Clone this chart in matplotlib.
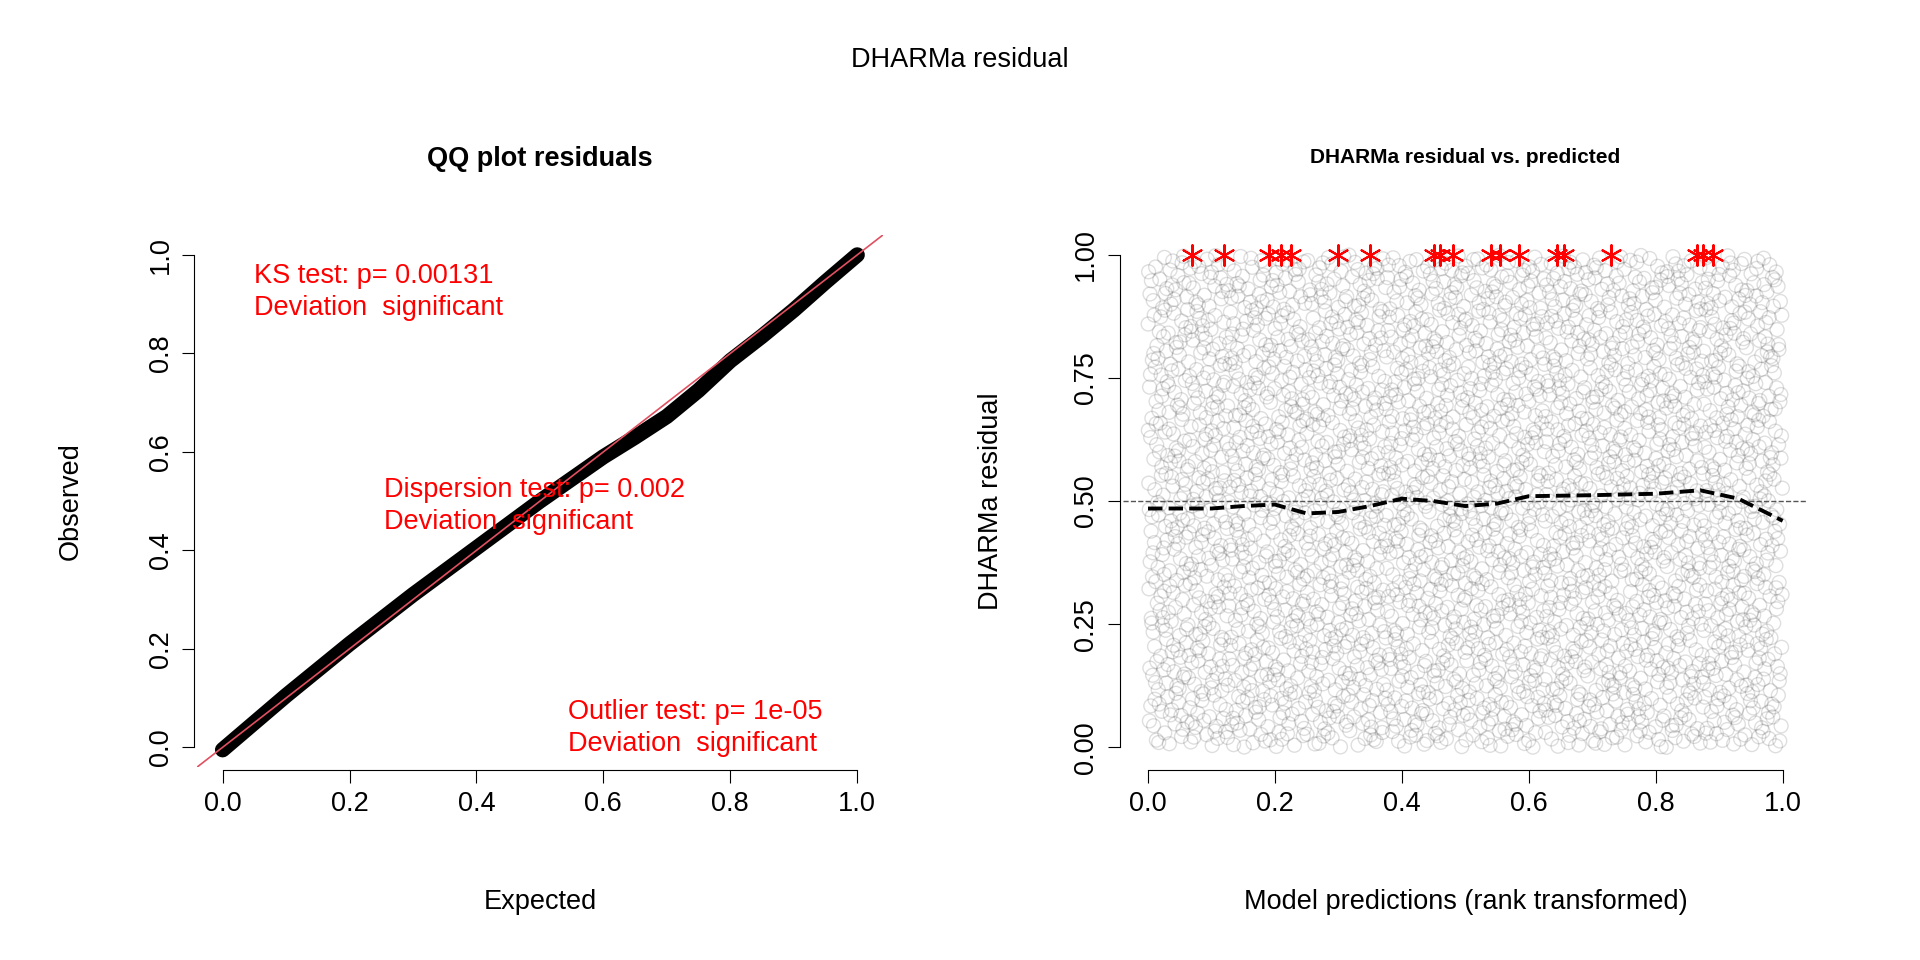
import numpy as np
import matplotlib
matplotlib.use("Agg")
import matplotlib.pyplot as plt

plt.rcParams["font.family"] = ["Liberation Sans", "DejaVu Sans"]

# QQ curve (expected, observed)
qq_expected = [0.0, 0.05, 0.1, 0.2, 0.3, 0.4, 0.5, 0.6, 0.65, 0.7, 0.75, 0.8, 0.85, 0.9, 0.95, 1.0]
qq_observed = [-0.005, 0.05, 0.105, 0.21, 0.31, 0.405, 0.5, 0.59, 0.63, 0.672, 0.725, 0.785, 0.835, 0.888, 0.945, 1.0]

# quantile-regression line (dashed)
qr_x = [0.0, 0.1, 0.15, 0.2, 0.25, 0.3, 0.35, 0.4, 0.45, 0.5, 0.55, 0.6, 0.7, 0.8, 0.87, 0.93, 1.0]
qr_y = [0.485, 0.485, 0.49, 0.493, 0.475, 0.478, 0.49, 0.505, 0.5, 0.49, 0.495, 0.51, 0.512, 0.515, 0.522, 0.505, 0.46]

# outliers marked as red stars at y = 1
outlier_x = [0.07, 0.12, 0.19, 0.21, 0.225, 0.30, 0.35, 0.45, 0.46, 0.48,
             0.54, 0.555, 0.585, 0.645, 0.655, 0.73, 0.865, 0.875, 0.89]

# residual cloud is uniform noise; individual points cannot be read,
# so a deterministic Halton layout stands in for it
def halton(n, base):
    out = np.zeros(n)
    for i in range(n):
        f, r, k = 1.0, 0.0, i + 1
        while k > 0:
            f /= base
            r += f * (k % base)
            k //= base
        out[i] = r
    return out

n_pts = 3000
cloud_x = halton(n_pts, 2)
cloud_y = halton(n_pts, 3)

ticks = [0.0, 0.2, 0.4, 0.6, 0.8, 1.0]
FS = 19.5
fig = plt.figure(figsize=(19.2, 9.6), dpi=100)
fig.text(0.5, 0.938, "DHARMa residual", ha="center", va="center", fontsize=FS)

def r_style(ax):
    for s in ("top", "right"):
        ax.spines[s].set_visible(False)
    ax.spines["left"].set_position(("outward", 2))
    ax.spines["bottom"].set_position(("outward", 2))
    ax.tick_params(labelsize=FS, length=9, pad=6)
    for lab in ax.get_yticklabels():
        lab.set_rotation(90)
        lab.set_va("center")

# left panel
ax1 = fig.add_axes([0.1027, 0.201, 0.357, 0.554])
ax1.plot(qq_expected, qq_observed, color="black", lw=11, solid_capstyle="round")
ax1.plot([-0.1, 1.1], [-0.1, 1.1], color="#e05060", lw=1.2)
ax1.set_xlim(-0.04, 1.04)
ax1.set_ylim(-0.04, 1.04)
ax1.set_xticks(ticks)
ax1.set_yticks(ticks)
ax1.spines["left"].set_bounds(0, 1)
ax1.spines["bottom"].set_bounds(0, 1)
ax1.set_xlabel("Expected", fontsize=FS, labelpad=52)
ax1.set_ylabel("Observed", fontsize=FS, labelpad=46)
ax1.set_title("QQ plot residuals", fontsize=FS, fontweight="bold", pad=50)
ax1.text(0.05, 0.925, "KS test: p= 0.00131\nDeviation  significant", color="red", fontsize=FS, va="center", linespacing=1.3)
ax1.text(0.255, 0.49, "Dispersion test: p= 0.002\nDeviation  significant", color="red", fontsize=FS, va="center", linespacing=1.3)
ax1.text(0.545, 0.04, "Outlier test: p= 1e-05\nDeviation  significant", color="red", fontsize=FS, va="center", linespacing=1.3)
r_style(ax1)

# right panel
ax2 = fig.add_axes([0.5847, 0.201, 0.357, 0.554])
ax2.scatter(cloud_x, cloud_y, s=100, facecolors="none", edgecolors=(0, 0, 0, 0.13), linewidths=1)
ax2.axhline(0.5, color="#555555", ls="--", lw=1)
ax2.plot(qr_x, qr_y, color="black", ls="--", lw=2.8)
ax2.scatter(outlier_x, [1.0] * len(outlier_x), marker=(6, 2, 0), s=220, color="red", linewidths=1.5, zorder=5)
ax2.set_xlim(-0.04, 1.04)
ax2.set_ylim(-0.04, 1.04)
ax2.set_xticks(ticks)
ax2.set_yticks([0.0, 0.25, 0.5, 0.75, 1.0])
ax2.set_yticklabels(["0.00", "0.25", "0.50", "0.75", "1.00"])
ax2.spines["left"].set_bounds(0, 1)
ax2.spines["bottom"].set_bounds(0, 1)
ax2.set_xlabel("Model predictions (rank transformed)", fontsize=FS, labelpad=52)
ax2.set_ylabel("DHARMa residual", fontsize=FS, labelpad=50)
ax2.set_title("DHARMa residual vs. predicted", fontsize=15, fontweight="bold", pad=52)
r_style(ax2)

fig.savefig("out.png", dpi=100)
